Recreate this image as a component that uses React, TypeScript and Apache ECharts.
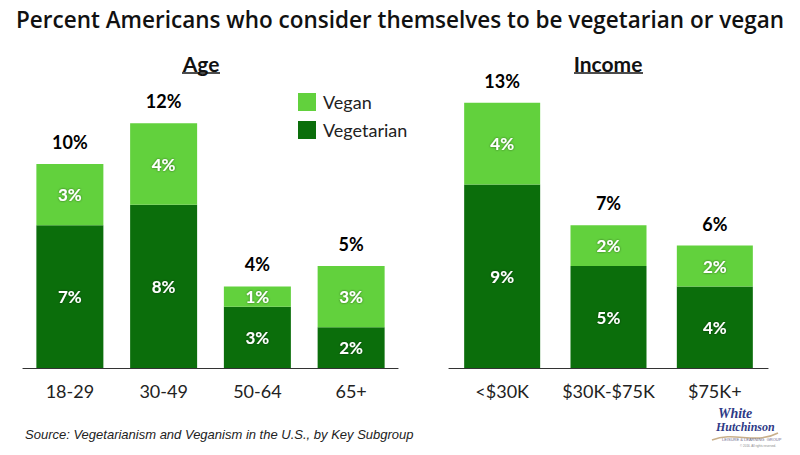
import React, { useEffect, useRef } from "react";
import * as echarts from "echarts";

const ageCategories = ["18-29", "30-49", "50-64", "65+"];
const ageVegetarian = [7, 8, 3, 2];
const ageVegan = [3, 4, 1, 3];
const ageTotal = [10, 12, 4, 5];

const incomeCategories = ["<$30K", "$30K-$75K", "$75K+"];
const incomeVegetarian = [9, 5, 4];
const incomeVegan = [4, 2, 2];
const incomeTotal = [13, 7, 6];

const VEGAN = "#62D13D";
const VEGETARIAN = "#0B6E0B";
const FONT = "Lato, 'Open Sans', sans-serif";

export default function App() {
  const ref = useRef<HTMLDivElement>(null);
  useEffect(() => {
    if (!ref.current) return;
    const chart = echarts.init(ref.current, undefined, { renderer: "svg" });
    const insideLabel = {
      show: true,
      position: "inside",
      color: "#fff",
      fontSize: 17,
      fontWeight: "bold",
      fontFamily: FONT,
      textShadowColor: "rgba(0,0,0,0.55)",
      textShadowBlur: 2,
      formatter: (p: any) => p.value + "%",
    };
    const totalLabel = {
      show: true,
      position: "top",
      distance: 13,
      color: "#000",
      opacity: 1,
      fontSize: 18,
      fontWeight: "bold",
      fontFamily: FONT,
      formatter: (p: any) => p.data.total + "%",
    };
    const xAxisCommon = {
      type: "category",
      axisLine: { lineStyle: { color: "#333", width: 1.2 } },
      axisTick: { show: false },
      axisLabel: { color: "#222", fontSize: 18, fontFamily: FONT, margin: 14, interval: 0 },
    };
    const yAxisCommon = {
      type: "value",
      min: 0,
      max: 15,
      show: false,
      splitLine: { show: false },
    };
    chart.setOption({
      animation: false,
      backgroundColor: "#fff",
      title: {
        text: "Percent Americans who consider themselves to be vegetarian or vegan",
        left: "center",
        top: 3,
        textStyle: { fontSize: 22.5, fontWeight: 600, color: "#111", fontFamily: "'Open Sans', Lato, sans-serif" },
      },
      legend: {
        data: ["Vegan", "Vegetarian"],
        orient: "vertical",
        left: 293,
        top: 88,
        icon: "rect",
        itemWidth: 18,
        itemHeight: 18,
        itemGap: 10,
        textStyle: { fontSize: 18, color: "#222", fontFamily: FONT, padding: [0, 0, 0, 2] },
      },
      grid: [
        { left: 23, width: 375, top: 62, bottom: 87 },
        { left: 449, width: 319, top: 62, bottom: 87 },
      ],
      xAxis: [
        { ...xAxisCommon, gridIndex: 0, data: ageCategories },
        { ...xAxisCommon, gridIndex: 1, data: incomeCategories },
      ],
      yAxis: [
        { ...yAxisCommon, gridIndex: 0 },
        { ...yAxisCommon, gridIndex: 1 },
      ],
      series: [
        {
          name: "Vegetarian", type: "bar", stack: "age", xAxisIndex: 0, yAxisIndex: 0,
          data: ageVegetarian, barWidth: 67, itemStyle: { color: VEGETARIAN }, label: insideLabel,
        },
        {
          name: "Vegan", type: "bar", stack: "age", xAxisIndex: 0, yAxisIndex: 0,
          data: ageVegan, barWidth: 67, itemStyle: { color: VEGAN }, label: insideLabel,
        },
        {
          name: "AgeTotal", type: "bar", stack: "age", xAxisIndex: 0, yAxisIndex: 0,
          data: ageTotal.map((t) => ({ value: 0, total: t })), barWidth: 67,
          itemStyle: { color: "#fff" }, label: totalLabel,
        },
        {
          name: "Vegetarian", type: "bar", stack: "inc", xAxisIndex: 1, yAxisIndex: 1,
          data: incomeVegetarian, barWidth: 76, itemStyle: { color: VEGETARIAN }, label: insideLabel,
        },
        {
          name: "Vegan", type: "bar", stack: "inc", xAxisIndex: 1, yAxisIndex: 1,
          data: incomeVegan, barWidth: 76, itemStyle: { color: VEGAN }, label: insideLabel,
        },
        {
          name: "IncomeTotal", type: "bar", stack: "inc", xAxisIndex: 1, yAxisIndex: 1,
          data: incomeTotal.map((t) => ({ value: 0, total: t })), barWidth: 76,
          itemStyle: { color: "#fff" }, label: totalLabel,
        },
      ],
      graphic: [
        {
          type: "text", x: 201, y: 63,
          style: { text: "Age", fontSize: 21, fontWeight: "bold", fill: "#111", fontFamily: FONT, align: "center", verticalAlign: "middle" },
        },
        { type: "line", shape: { x1: 182, y1: 73, x2: 220, y2: 73 }, style: { stroke: "#111", lineWidth: 1.5 } },
        {
          type: "text", x: 608, y: 63,
          style: { text: "Income", fontSize: 21, fontWeight: "bold", fill: "#111", fontFamily: FONT, align: "center", verticalAlign: "middle" },
        },
        { type: "line", shape: { x1: 574, y1: 73, x2: 643, y2: 73 }, style: { stroke: "#111", lineWidth: 1.5 } },
        {
          type: "text", x: 25, y: 434,
          style: { text: "Source: Vegetarianism and Veganism in the U.S., by Key Subgroup", fontSize: 13, fontStyle: "italic", fill: "#222", fontFamily: "'Liberation Sans', Arial, sans-serif", verticalAlign: "middle" },
        },
        {
          type: "group", x: 0, y: 0,
          children: [
            { type: "text", x: 718, y: 413, style: { text: "White", fontSize: 14, fontWeight: "bold", fontStyle: "italic", fill: "#2E3A86", fontFamily: "'Liberation Serif', serif", verticalAlign: "middle" } },
            { type: "text", x: 716, y: 427, style: { text: "Hutchinson", fontSize: 12, fontWeight: "bold", fontStyle: "italic", fill: "#2E3A86", fontFamily: "'Liberation Serif', serif", verticalAlign: "middle" } },
            { type: "bezierCurve", shape: { x1: 712, y1: 440, x2: 778, y2: 433, cpx1: 735, cpy1: 431, cpx2: 755, cpy2: 445 }, style: { stroke: "#C9B08A", lineWidth: 1.5, fill: "none" } },
            { type: "text", x: 722, y: 439, style: { text: "LEISURE & LEARNING  GROUP", fontSize: 4, fill: "#6E6A8E", fontFamily: "'Liberation Sans', sans-serif", verticalAlign: "middle" } },
            { type: "text", x: 740, y: 446, style: { text: "© 2016. All rights reserved.", fontSize: 3, fill: "#888", fontFamily: "'Liberation Sans', sans-serif", verticalAlign: "middle" } },
          ],
        },
      ],
    });
    return () => chart.dispose();
  }, []);
  return <div ref={ref} style={{ width: 800, height: 455, position: "absolute", left: 0, top: 0 }} />;
}
